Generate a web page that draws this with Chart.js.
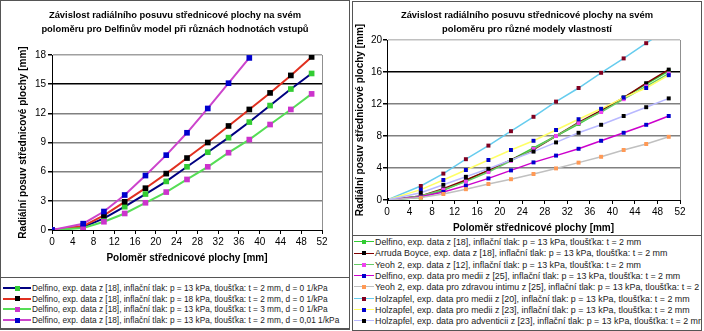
<!DOCTYPE html>
<html>
<head>
<meta charset="utf-8">
<script src="https://cdn.jsdelivr.net/npm/chart.js@4/dist/chart.umd.min.js"></script>
<style>
  body { margin: 0; background: #fff; width: 704px; height: 331px; position: relative; overflow: hidden; font-family: 'Liberation Sans', Arial, sans-serif; }
  .frame { position: absolute; border: 1px solid #555; box-sizing: border-box; }
  .title { position: absolute; text-align: center; font-weight: bold; font-size: 9.4px; line-height: 13.5px; color: #000; white-space: nowrap; }
  .legend { position: absolute; border: 1px solid #555; box-sizing: border-box; background: #fff; color: #222; overflow: hidden; }
  .row { position: absolute; left: 0; white-space: nowrap; }
  .row .ln { position: absolute; height: 0; }
  .row .mk { position: absolute; }
  .row .tx { position: absolute; white-space: nowrap; }
  canvas { position: absolute; }
</style>
</head>
<body>
<div class="frame" style="left:0;top:0;width:350px;height:330px"></div>
<canvas id="leftChart" style="left:0;top:0"></canvas>
<div class="title" id="leftTitle" style="left:0;top:8px;width:350px"></div>
<div class="legend" id="leftLegend" style="left:0;top:277px;width:350px;height:52px"></div>

<div class="frame" style="left:352px;top:1px;width:350px;height:330px"></div>
<canvas id="rightChart" style="left:352px;top:0"></canvas>
<div class="title" id="rightTitle" style="left:352px;top:8px;width:350px"></div>
<div class="legend" id="rightLegend" style="left:352px;top:235px;width:350px;height:96px"></div>

<script>
// Polomer strednicove plochy [mm] - shared x positions
const radius = [0, 6, 10, 14, 18, 22, 26, 30, 34, 38, 42, 46, 50];

// Left chart: Delfino model, different inputs
const delfinoP13T2 = [0, 0.3, 1.2, 2.4, 3.7, 5.0, 6.5, 8.0, 9.5, 11.1, 12.8, 14.5, 16.1];
const delfinoP18T2 = [0, 0.4, 1.5, 2.9, 4.3, 5.8, 7.4, 9.0, 10.7, 12.4, 14.1, 15.9, 17.8];
const delfinoP13T3 = [0, 0.2, 0.85, 1.7, 2.8, 3.9, 5.2, 6.5, 7.95, 9.3, 10.85, 12.4, 14.0];
const delfinoD001 = [0, 0.65, 1.9, 3.6, 5.6, 7.7, 10.0, 12.5, 15.1, 17.7];

const leftTitle = ['Závislost radiálního posuvu střednicové plochy na svém',
                   'poloměru pro Delfinův model při různách hodnotách vstupů'];
const leftLabels = [
  'Delfino, exp. data z [18], inflační tlak: p = 13 kPa, tloušťka: t = 2 mm, d = 0 1/kPa',
  'Delfino, exp. data z [18], inflační tlak: p = 18 kPa, tloušťka: t = 2 mm, d = 0 1/kPa',
  'Delfino, exp. data z [18], inflační tlak: p = 13 kPa, tloušťka: t = 3 mm, d = 0 1/kPa',
  'Delfino, exp. data z [18], inflační tlak: p = 13 kPa, tloušťka: t = 2 mm, d = 0,01 1/kPa'
];
const leftSeries = [delfinoP13T2, delfinoP18T2, delfinoP13T3, delfinoD001];
const leftLine = ['#000080', '#e03020', '#55dd55', '#cc44cc'];
const leftMarker = ['#33cc33', '#000000', '#cc33cc', '#0000cc'];
const leftYTicks = [0, 3, 6, 9, 12, 15, 18];

// Right chart: different material models
const rDelfino18 = [0, 0.3, 1.2, 2.4, 3.7, 5.0, 6.5, 8.0, 9.5, 11.1, 12.8, 14.5, 16.1];
const rArrudaBoyce = [0, 0.5, 1.4, 2.5, 3.7, 5.0, 6.3, 8.0, 9.7, 11.2, 12.8, 14.6, 16.3];
const rYeoh12 = [0, 0.5, 1.3, 2.3, 3.5, 4.9, 6.4, 8.0, 9.6, 11.0, 12.6, 14.2, 15.8];
const rDelfinoMedia = [0, 0.4, 1.0, 1.8, 2.7, 3.7, 4.7, 5.55, 6.4, 7.4, 8.4, 9.4, 10.5];
const rYeohIntima = [0, 0.3, 0.75, 1.35, 2.0, 2.6, 3.25, 3.95, 4.67, 5.4, 6.25, 7.0, 7.9];
const rHolzMedia20 = [0, 1.75, 3.3, 5.1, 6.8, 8.6, 10.4, 12.3, 14.0, 15.9, 17.7, 19.6, 21.5];
const rHolzMedia23 = [0, 1.3, 2.5, 3.75, 5.0, 6.25, 7.4, 8.75, 10.1, 11.4, 12.8, 14.0, 15.6];
const rHolzAdvent23 = [0, 0.9, 1.9, 2.9, 3.9, 5.0, 6.05, 7.2, 8.4, 9.4, 10.5, 11.6, 12.7];

const rightTitle = ['Závislost radiálního posuvu střednicové plochy na svém',
                    'poloměru pro různé modely vlastností'];
const rightLabels = [
  'Delfino, exp. data z [18], inflační tlak: p = 13 kPa, tloušťka: t = 2 mm',
  'Arruda Boyce, exp. data z [18], inflační tlak: p = 13 kPa, tloušťka: t = 2 mm',
  'Yeoh 2, exp. data z [12], inflační tlak: p = 13 kPa, tloušťka: t = 2 mm',
  'Delfino, exp. data pro medii z [25], inflační tlak: p = 13 kPa, tloušťka: t = 2 mm',
  'Yeoh 2, exp. data pro zdravou intimu z [25], inflační tlak: p = 13 kPa, tloušťka: t = 2 mm',
  'Holzapfel, exp. data pro medii z [20], inflační tlak: p = 13 kPa, tloušťka: t = 2 mm',
  'Holzapfel, exp. data pro medii z [23], inflační tlak: p = 13 kPa, tloušťka: t = 2 mm',
  'Holzapfel, exp. data pro adventicii z [23], inflační tlak: p = 13 kPa, tloušťka: t = 2 mm'
];
const rightSeries = [rDelfino18, rArrudaBoyce, rYeoh12, rDelfinoMedia, rYeohIntima, rHolzMedia20, rHolzMedia23, rHolzAdvent23];
const rightLine = ['#33cc33', '#800000', '#66cc66', '#cc00cc', '#c0c0c0', '#66ccee', '#ffff66', '#b8b8ff'];
const rightMarker = ['#33cc33', '#000000', '#ee44ee', '#0000cc', '#ff9955', '#800020', '#0000cc', '#000000'];
const rightYTicks = [0, 4, 8, 12, 16, 20];

const xTicks = [0, 4, 8, 12, 16, 20, 24, 28, 32, 36, 40, 44, 48, 52];

const FONT = "'Liberation Sans', Arial, sans-serif";

function toPoints(values) {
  return values.map((v, i) => ({ x: radius[i], y: v }));
}

function makeDatasets(series, lineColors, markerColors, width, pr) {
  return series.map((vals, i) => ({
    data: toPoints(vals),
    borderColor: lineColors[i],
    borderWidth: width,
    backgroundColor: markerColors[i],
    pointBackgroundColor: markerColors[i],
    pointBorderColor: markerColors[i],
    pointBorderWidth: 0,
    pointStyle: 'rect',
    pointRadius: pr,
    tension: 0
  })).reverse();
}

function buildChart(id, cfg) {
  const canvas = document.getElementById(id);
  canvas.width = cfg.w;
  canvas.height = cfg.h;
  return new Chart(canvas, {
    type: 'line',
    data: { datasets: makeDatasets(cfg.series, cfg.line, cfg.marker, cfg.lineWidth, cfg.pointRadius) },
    options: {
      responsive: false,
      animation: false,
      devicePixelRatio: 1,
      layout: { padding: cfg.padding },
      plugins: {
        legend: { display: false },
        tooltip: { enabled: false },
        title: { display: false }
      },
      scales: {
        x: {
          type: 'linear',
          min: 0, max: 52,
          afterBuildTicks: s => { s.ticks = xTicks.map(v => ({ value: v })); },
          afterFit: s => { s.height = cfg.xHeight; },
          ticks: { color: '#000', font: { family: FONT, size: 10 }, padding: 2, maxRotation: 0 },
          grid: {
            color: c => (c.tick && c.tick.value === 52) ? '#909090' : 'rgba(0,0,0,0)',
            tickColor: '#000', tickLength: 4, lineWidth: 1
          },
          border: { color: '#000', width: 1 },
          title: {
            display: true, text: 'Poloměr střednicové plochy [mm]', color: '#000',
            font: { family: FONT, size: 10, weight: 'bold' }, padding: cfg.xTitlePadding
          }
        },
        y: {
          type: 'linear',
          min: 0, max: cfg.yMax,
          afterBuildTicks: s => { s.ticks = cfg.yTicks.map(v => ({ value: v })); },
          afterFit: s => { s.width = cfg.yWidth; },
          ticks: { color: '#000', font: { family: FONT, size: 10 }, padding: cfg.yTickPad },
          grid: {
            color: c => cfg.gridColor(c.tick ? c.tick.value : -1),
            tickColor: '#000', tickLength: 4, lineWidth: 1.5
          },
          border: { color: '#000', width: 1 },
          title: {
            display: true, text: 'Radiální posuv střednicové plochy [mm]', color: '#000',
            font: { family: FONT, size: 10, weight: 'bold' }, padding: cfg.yTitlePadding
          }
        }
      }
    }
  });
}

buildChart('leftChart', {
  w: 350, h: 277,
  series: leftSeries, line: leftLine, marker: leftMarker,
  lineWidth: 2, pointRadius: 4,
  padding: { left: 4, right: 28, top: 55, bottom: 0 },
  xHeight: 47, xTitlePadding: { top: 0, bottom: 13 },
  yMax: 18, yTicks: leftYTicks, yWidth: 48, yTickPad: 2,
  yTitlePadding: { top: 13, bottom: 0 },
  gridColor: v => v === 15 ? '#000' : v === 18 ? '#a0a0a0' : v === 0 ? 'rgba(0,0,0,0)' : '#808080'
});

buildChart('rightChart', {
  w: 350, h: 236,
  series: rightSeries, line: rightLine, marker: rightMarker,
  lineWidth: 1.5, pointRadius: 2.8,
  padding: { left: 2, right: 22, top: 40, bottom: 0 },
  xHeight: 36, xTitlePadding: { top: 0, bottom: 2 },
  yMax: 20, yTicks: rightYTicks, yWidth: 33, yTickPad: 1,
  yTitlePadding: { top: 0, bottom: 0 },
  gridColor: v => v === 16 ? '#000' : v === 20 ? '#c0c0c0' : v === 0 ? 'rgba(0,0,0,0)' : '#808080'
});

function fillTitle(id, lines) {
  const el = document.getElementById(id);
  lines.forEach(t => {
    const d = document.createElement('div');
    d.textContent = t;
    el.appendChild(d);
  });
}
fillTitle('leftTitle', leftTitle);
fillTitle('rightTitle', rightTitle);

// HTML legends: line with a square marker, then the label
function buildLegend(id, labels, lineColors, markerColors, o) {
  const box = document.getElementById(id);
  labels.forEach((text, i) => {
    const row = document.createElement('div');
    row.className = 'row';
    row.style.top = (o.top + i * o.step) + 'px';
    const ln = document.createElement('div');
    ln.className = 'ln';
    ln.style.cssText = `left:${o.lineX}px;width:${o.lineW}px;top:${-o.lw / 2}px;border-top:${o.lw}px solid ${lineColors[i]}`;
    const mk = document.createElement('div');
    mk.className = 'mk';
    mk.style.cssText = `left:${o.lineX + o.lineW / 2 - o.mk / 2}px;top:${-o.mk / 2}px;width:${o.mk}px;height:${o.mk}px;background:${markerColors[i]}`;
    const tx = document.createElement('div');
    tx.className = 'tx';
    tx.textContent = text;
    tx.style.cssText = `left:${o.textX}px;top:-6px;line-height:12px;font-size:${o.fs}px`;
    row.append(ln, mk, tx);
    box.appendChild(row);
  });
}

buildLegend('leftLegend', leftLabels, leftLine, leftMarker,
  { top: 10, step: 10.7, lineX: 2, lineW: 28, lw: 2, mk: 5, textX: 31, fs: 8.3 });
buildLegend('rightLegend', rightLabels, rightLine, rightMarker,
  { top: 6, step: 11.3, lineX: 1, lineW: 20, lw: 1.5, mk: 4, textX: 22, fs: 8.9 });
</script>
</body>
</html>
